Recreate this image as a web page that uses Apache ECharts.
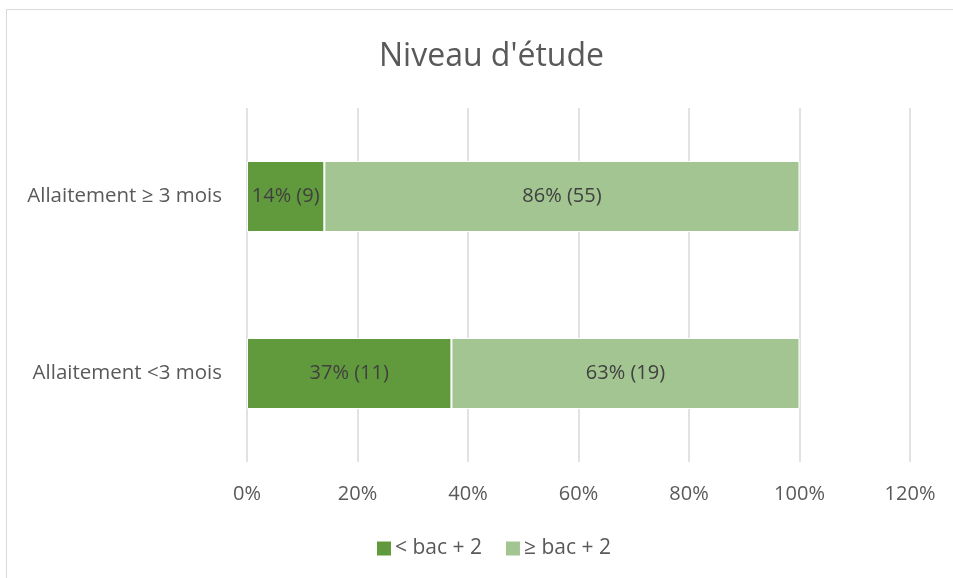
<!DOCTYPE html>
<html><head><meta charset="utf-8">
<script src="https://cdn.jsdelivr.net/npm/echarts@6/dist/echarts.min.js"></script>
<style>html,body{margin:0;padding:0;background:#fff;}#c{width:953px;height:578px;}</style>
</head><body><div id="c"></div>
<script>
const categories = ['Allaitement <3 mois', 'Allaitement \u2265 3 mois'];
const seriesNames = ['< bac + 2', '\u2265 bac + 2'];
const pctLow = [37, 14];
const countLow = [11, 9];
const pctHigh = [63, 86];
const countHigh = [19, 55];
const xTicks = { min: 0, max: 120, interval: 20 };

const font = "'Open Sans', 'Noto Sans', sans-serif";
const txt = '#595959';
const chart = echarts.init(document.getElementById('c'), null, { renderer: 'canvas' });
function mk(name, pcts, counts, color) {
  return {
    name: name, type: 'bar', stack: 'total', barWidth: 71,
    data: pcts,
    itemStyle: { color: color, borderColor: '#fff', borderWidth: 1 },
    label: {
      show: true, position: 'inside', color: '#404040', fontFamily: font, fontSize: 20,
      formatter: p => pcts[p.dataIndex] + '% (' + counts[p.dataIndex] + ')'
    }
  };
}
chart.setOption({
  animation: false,
  backgroundColor: '#fff',
  title: { text: "Niveau d'\u00e9tude", left: 374, top: 36,
    textStyle: { fontFamily: font, fontSize: 32, fontWeight: 'normal', color: txt } },
  graphic: [{ type: 'rect', shape: { x: 6.5, y: 9.5, width: 1200, height: 1200 },
    style: { fill: 'none', stroke: '#d9d9d9', lineWidth: 1 }, silent: true }],
  legend: { bottom: 14, left: 370, itemWidth: 16, itemHeight: 16, itemGap: 22,
    icon: 'rect', data: seriesNames,
    textStyle: { fontFamily: font, fontSize: 21, color: txt, padding: [0, 0, 0, -2] } },
  grid: { left: 247, right: 43, top: 108, bottom: 116, containLabel: false },
  xAxis: { type: 'value', min: xTicks.min, max: xTicks.max, interval: xTicks.interval,
    axisLine: { show: false }, axisTick: { show: false },
    splitLine: { lineStyle: { color: '#d9d9d9', width: 1.5 } },
    axisLabel: { formatter: '{value}%', margin: 22, color: txt, fontFamily: font, fontSize: 20 } },
  yAxis: { type: 'category', data: categories,
    axisLine: { show: false }, axisTick: { show: false },
    axisLabel: { margin: 25, color: txt, fontFamily: font, fontSize: 20.5 } },
  series: [
    mk(seriesNames[0], pctLow, countLow, '#619a3c'),
    mk(seriesNames[1], pctHigh, countHigh, '#a3c591')
  ]
});
</script></body></html>
